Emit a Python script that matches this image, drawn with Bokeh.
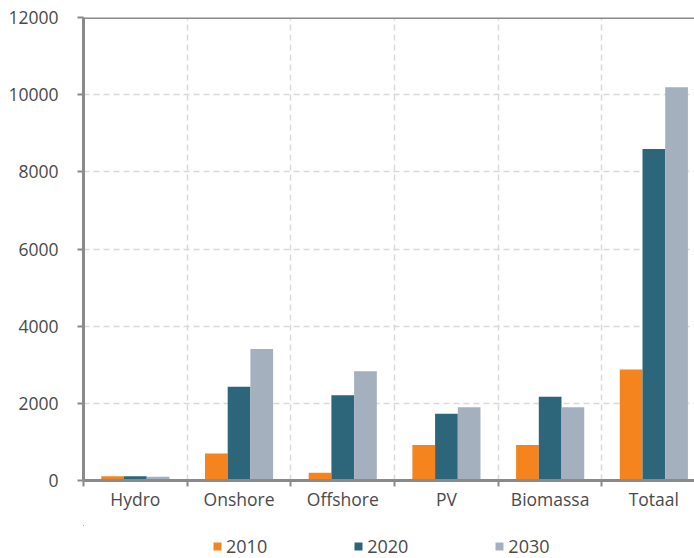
from bokeh.plotting import figure
from bokeh.layouts import column
from bokeh.models import (ColumnDataSource, Range1d, FixedTicker, Legend, LegendItem, Span)
from bokeh.embed import file_html
from bokeh.resources import INLINE
import numpy as np

categories = ["Hydro", "Onshore", "Offshore", "PV", "Biomassa", "Totaal"]
years = ["2010", "2020", "2030"]
v2010 = [110, 700, 200, 920, 920, 2880]
v2020 = [110, 2430, 2210, 1730, 2170, 8590]
v2030 = [100, 3410, 2830, 1900, 1900, 10190]
y_ticks = [0, 2000, 4000, 6000, 8000, 10000, 12000]

colors = ["#F5841F", "#2D667B", "#A4B0BE"]
FONT = "Open Sans"
TXT = "#4a4a4a"
AX = "#8a8a8a"

n = len(categories)
centers = np.arange(n) + 0.5
bw = 0.219

p = figure(width=694, height=525, output_backend="svg", toolbar_location=None,
           x_range=Range1d(0, 5.892), y_range=Range1d(0, 12000),
           min_border_left=83, min_border_right=0, min_border_top=17, min_border_bottom=45)
p.outline_line_color = None
p.background_fill_color = "white"
p.border_fill_color = "white"

sources = []
renderers = []
for k, (vals, col) in enumerate(zip([v2010, v2020, v2030], colors)):
    src = ColumnDataSource(dict(x=centers + (k - 1) * bw, top=vals))
    sources.append(src)
    r = p.vbar(x="x", top="top", width=bw, bottom=0, source=src,
               fill_color=col, line_color=None)
    renderers.append(r)

# top border
p.add_layout(Span(location=12000, dimension="width", line_color=AX, line_width=3))

# x axis
xa = p.xaxis[0]
xa.ticker = FixedTicker(ticks=list(centers), minor_ticks=list(range(0, n + 1)))
xa.major_label_overrides = {float(c): cat for c, cat in zip(centers, categories)}
xa.major_tick_out = 0
xa.major_tick_in = 0
xa.minor_tick_out = 6
xa.minor_tick_in = 0
xa.minor_tick_line_color = AX
xa.minor_tick_line_width = 2
xa.axis_line_color = AX
xa.axis_line_width = 3
xa.major_label_text_font = FONT
xa.major_label_text_font_size = "17.5px"
xa.major_label_text_color = TXT
xa.major_label_standoff = 0

# y axis
ya = p.yaxis[0]
ya.ticker = FixedTicker(ticks=y_ticks)
ya.minor_tick_out = 0
ya.minor_tick_in = 0
ya.major_tick_out = 6
ya.major_tick_in = 0
ya.major_tick_line_color = AX
ya.major_tick_line_width = 2
ya.axis_line_color = AX
ya.axis_line_width = 3
ya.major_label_text_font = FONT
ya.major_label_text_font_size = "17.5px"
ya.major_label_text_color = TXT
ya.major_label_standoff = 19

# grids
p.xgrid.ticker = FixedTicker(ticks=list(range(1, n)))
p.xgrid.grid_line_color = "#d9d9d9"
p.xgrid.grid_line_dash = "6 4"
p.xgrid.grid_line_width = 1.5
p.ygrid.ticker = FixedTicker(ticks=y_ticks[1:-1])
p.ygrid.grid_line_color = "#d9d9d9"
p.ygrid.grid_line_dash = "6 4"
p.ygrid.grid_line_width = 1.5

# legend strip (its bars lie outside its visible range; only the legend shows)
pl = figure(width=694, height=33, output_backend="svg", toolbar_location=None,
            x_axis_location=None, y_axis_location=None,
            x_range=Range1d(100, 101), y_range=Range1d(-1e6, -1e6 + 1),
            min_border=0)
pl.outline_line_color = None
pl.background_fill_color = None
pl.border_fill_color = None
pl.grid.visible = False
leg_r = [pl.vbar(x="x", top="top", width=bw, bottom=0, source=s, fill_color=c, line_color=None)
         for s, c in zip(sources, colors)]
legend = Legend(items=[LegendItem(label=y, renderers=[r]) for y, r in zip(years, leg_r)],
                orientation="horizontal", location=(129, 0))
legend.glyph_width = 10
legend.glyph_height = 10
legend.label_standoff = 4
legend.spacing = 86
legend.label_text_font = FONT
legend.label_text_font_size = "18px"
legend.label_text_color = TXT
legend.border_line_color = None
legend.background_fill_alpha = 0
legend.padding = 0
legend.margin = 0
pl.add_layout(legend, "center")

layout = column(p, pl, spacing=0)
open("out.html", "w").write(file_html(layout, INLINE))
